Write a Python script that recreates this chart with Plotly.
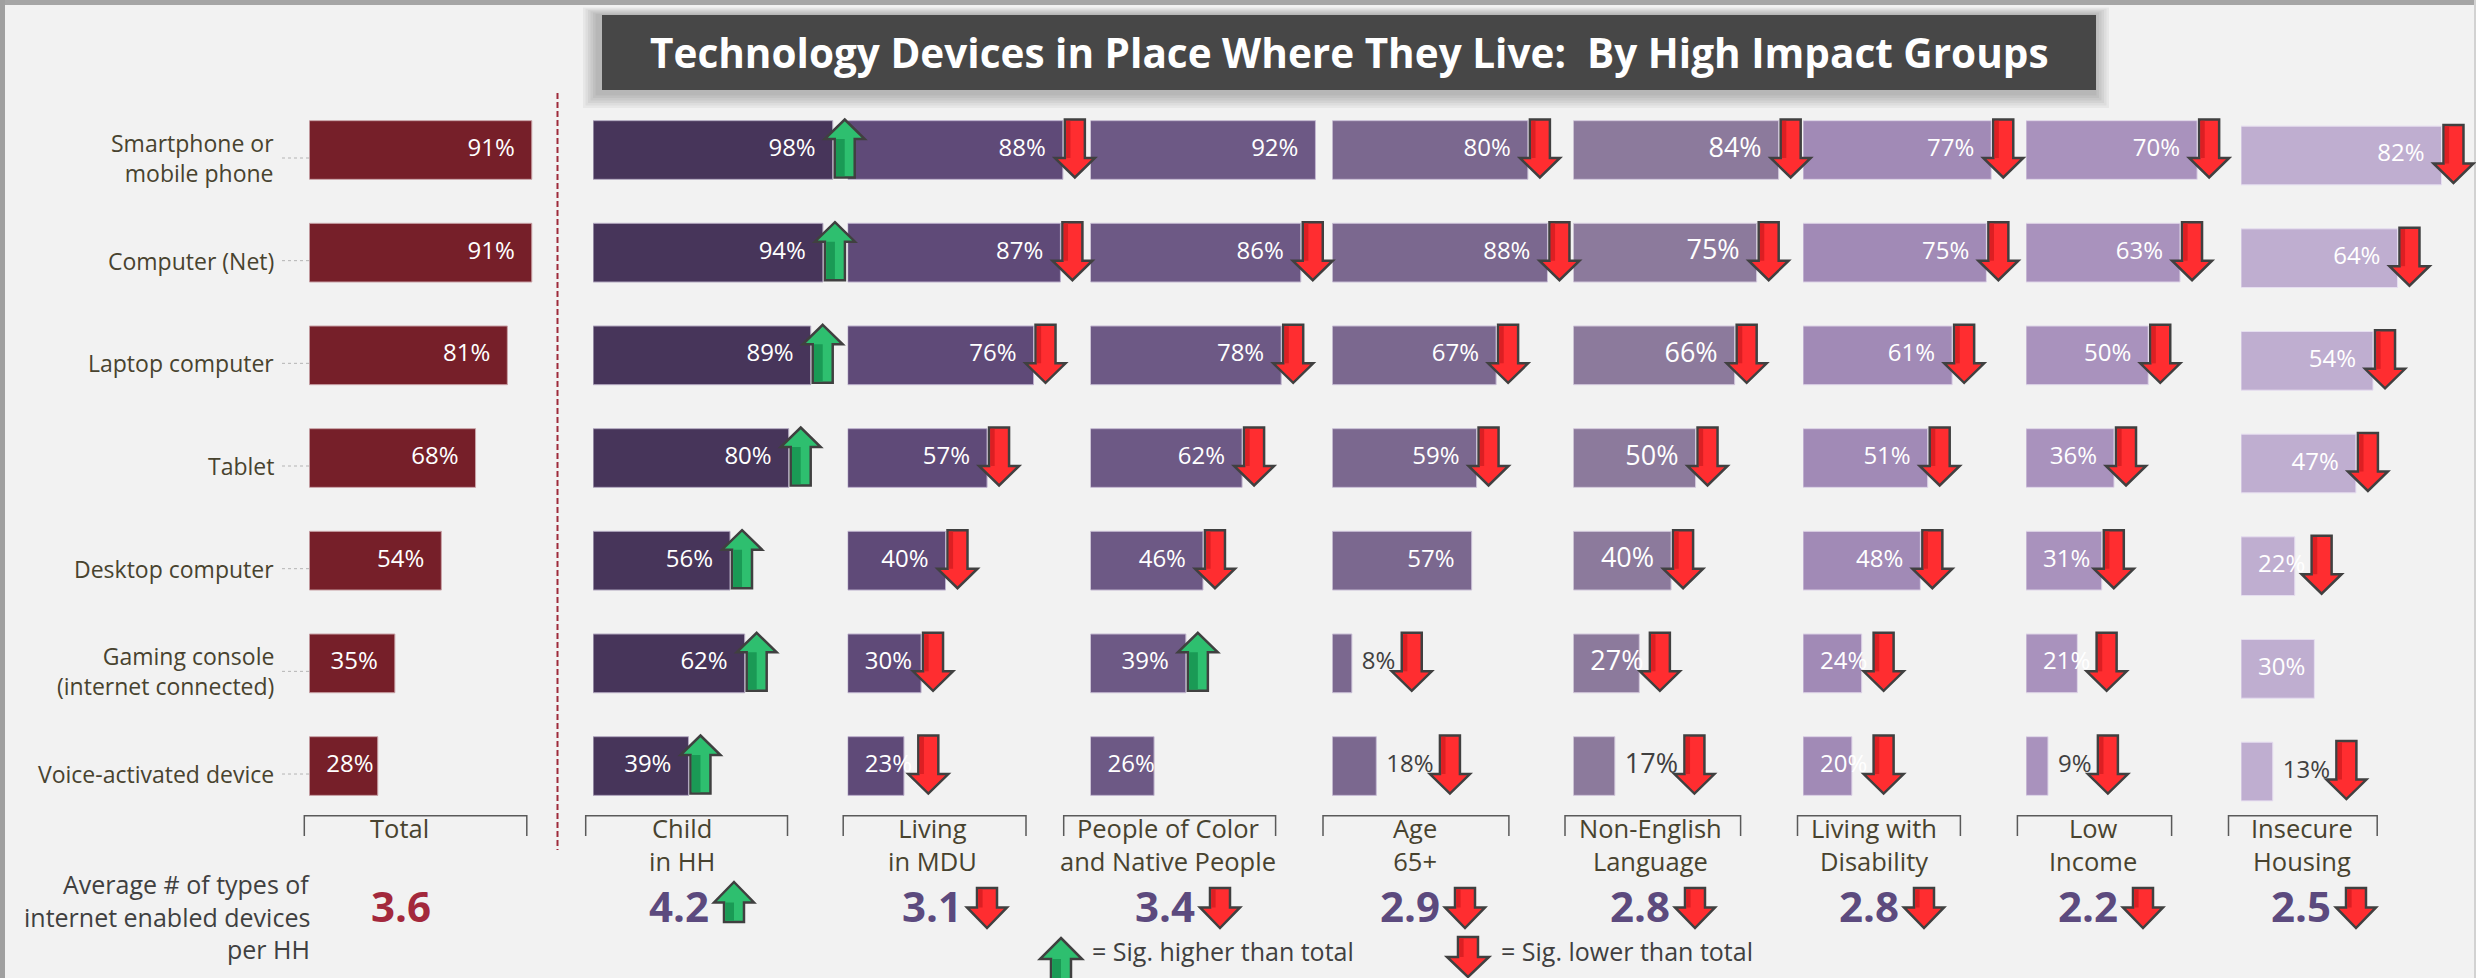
import plotly.graph_objects as go

W, H = 2476, 978
BG = "#f2f2f2"
FONT = "Open Sans"


def fx(p):
    """Horizontal pixel -> paper fraction."""
    return p / W


def fy(p):
    """Vertical pixel (measured from top) -> paper fraction."""
    return 1 - p / H


# ---------------------------------------------------------------- data
devices = [
    "Smartphone or<br>mobile phone",
    "Computer (Net)",
    "Laptop computer",
    "Tablet",
    "Desktop computer",
    "Gaming console<br>(internet connected)",
    "Voice-activated device",
]

groups = [
    "Total",
    "Child<br>in HH",
    "Living<br>in MDU",
    "People of Color<br>and Native People",
    "Age<br>65+",
    "Non-English<br>Language",
    "Living with<br>Disability",
    "Low<br>Income",
    "Insecure<br>Housing",
]

total = [91, 91, 81, 68, 54, 35, 28]
child_in_hh = [98, 94, 89, 80, 56, 62, 39]
living_in_mdu = [88, 87, 76, 57, 40, 30, 23]
people_of_color = [92, 86, 78, 62, 46, 39, 26]
age_65_plus = [80, 88, 67, 59, 57, 8, 18]
non_english = [84, 75, 66, 50, 40, 27, 17]
disability = [77, 75, 61, 51, 48, 24, 20]
low_income = [70, 63, 50, 36, 31, 21, 9]
insecure_housing = [82, 64, 54, 47, 22, 30, 13]

# significance versus total: 1 = higher, -1 = lower, 0 = not significant
sig_total = [0, 0, 0, 0, 0, 0, 0]
sig_child = [1, 1, 1, 1, 1, 1, 1]
sig_mdu = [-1, -1, -1, -1, -1, -1, -1]
sig_poc = [0, -1, -1, -1, -1, 1, 0]
sig_age = [-1, -1, -1, -1, 0, -1, -1]
sig_non_english = [-1, -1, -1, -1, -1, -1, -1]
sig_disability = [-1, -1, -1, -1, -1, -1, -1]
sig_low_income = [-1, -1, -1, -1, -1, -1, -1]
sig_insecure = [-1, -1, -1, -1, -1, 0, -1]

avg_devices = [3.6, 4.2, 3.1, 3.4, 2.9, 2.8, 2.8, 2.2, 2.5]
avg_sig = [0, 1, -1, -1, -1, -1, -1, -1, -1]

avg_label_lines = ["Average # of types of", "internet enabled devices", "per HH"]

columns = [total, child_in_hh, living_in_mdu, people_of_color, age_65_plus,
           non_english, disability, low_income, insecure_housing]
sigs = [sig_total, sig_child, sig_mdu, sig_poc, sig_age,
        sig_non_english, sig_disability, sig_low_income, sig_insecure]

# ---------------------------------------------------------------- styling / geometry
col_color = ["#761f29", "#47355a", "#5f4a78", "#6d5985", "#7b688f",
             "#8c7a9c", "#a18ab6", "#a992bd", "#bfaed0"]
col_edge = ["#c9a3a8", "#b3a9c0", "#bcb0cc", "#c3b8d0", "#c9bfd6",
            "#d3c9dc", "#dcd2e6", "#dfd6e8", "#e6def0"]
label_size = [24, 24, 24, 24, 24, 27, 24, 24, 24]

col_start = [309.3, 593.1, 847.7, 1090.5, 1332.3, 1573.3, 1803.0, 2026.0, 2241.0]
col_vshift = [0, 0, 0, 0, 0, 0, 0, 0, 5.5]
PX_PER_PCT = 2.445
ROW_PITCH = 102.67
ROW0 = 150.0           # pixel centre of the first row
BAR_H = 58.7
N_ROWS = len(devices)
rows = list(range(N_ROWS))

bracket_span = [(304.3, 526.8), (585.7, 787.5), (843.2, 1026.0), (1063.7, 1275.6),
                (1323.0, 1508.9), (1565.0, 1740.6), (1797.5, 1960.4), (2017.4, 2171.6),
                (2228.5, 2377.2)]
group_cx = [399.5, 682, 932.5, 1168, 1415, 1650, 1874, 2093, 2302]
avg_cx = [400.5, 679, 932, 1165, 1410, 1640, 1869, 2088, 2301]
avg_line_y = [884, 916.5, 949]

GREEN, GREEN_DARK = "#2ebf6f", "#1a9a55"
RED, RED_DARK = "#ff2d30", "#dc1f23"
OUTLINE = "#404040"
TEXT_DARK = "#48432f"
TEXT_GREY = "#404040"
PURPLE_VALUE = "#5c4a7e"
RED_VALUE = "#a3283c"

fig = go.Figure()
layout_axes = {}
shapes = []
annotations = []


def arrow_poly(up, h, head_h, head_w, shaft_w):
    hh, hw, sw = h / 2, head_w / 2, shaft_w / 2
    if up:
        b = -hh + head_h
        return [(0, -hh), (hw, b), (sw, b), (sw, hh), (-sw, hh), (-sw, b), (-hw, b)]
    b = hh - head_h
    return [(-sw, -hh), (sw, -hh), (sw, b), (hw, b), (0, hh), (-hw, b), (-sw, b)]


def shade_poly(up, h, head_h, shaft_w, frac, inset=1.3):
    hh, sw = h / 2, shaft_w / 2
    x0, x1 = -sw + inset, -sw + shaft_w * frac
    if up:
        return [(x0, -hh + head_h), (x1, -hh + head_h), (x1, hh - inset), (x0, hh - inset)]
    return [(x0, -hh + inset), (x1, -hh + inset), (x1, hh - head_h), (x0, hh - head_h)]


def to_path(pts):
    return "M " + " L ".join(f"{x:.5f},{y:.5f}" for x, y in pts) + " Z"


def add_arrow(up, pts_map, xref, yref, h, head_h, head_w, shaft_w):
    body = [pts_map(dx, dy) for dx, dy in arrow_poly(up, h, head_h, head_w, shaft_w)]
    shade = [pts_map(dx, dy) for dx, dy in
             shade_poly(up, h, head_h, shaft_w, 0.5 if up else 0.28)]
    shapes.append(dict(type="path", path=to_path(body), xref=xref, yref=yref,
                       fillcolor=GREEN if up else RED,
                       line=dict(color=OUTLINE, width=2.5), layer="above"))
    shapes.append(dict(type="path", path=to_path(shade), xref=xref, yref=yref,
                       fillcolor=GREEN_DARK if up else RED_DARK,
                       line=dict(width=0), layer="above"))


# ---------------------------------------------------------------- axes
for c in range(len(columns)):
    shift = col_vshift[c]
    yname = "y" if shift == 0 else "y2"
    start = col_start[c]
    end = min(start + 300, W)
    xkey = "xaxis" if c == 0 else f"xaxis{c + 1}"
    layout_axes[xkey] = dict(domain=[fx(start), fx(end)], range=[0, (end - start) / PX_PER_PCT],
                             anchor=yname, visible=False, fixedrange=True)

for key, shift, anchor in (("yaxis", 0, "x"), ("yaxis2", 5.5, "x9")):
    top = ROW0 - ROW_PITCH / 2 + shift
    bottom = ROW0 + (N_ROWS - 0.5) * ROW_PITCH + shift
    layout_axes[key] = dict(domain=[fy(bottom), fy(top)], range=[N_ROWS - 0.5, -0.5],
                            anchor=anchor, visible=False, fixedrange=True)

# ---------------------------------------------------------------- bars, labels, arrows
ARROW_GAP = 12          # px from bar end to arrow centre
PAD = 17                # px inside padding for value labels
OUT_PAD = 10            # px between bar end and an outside label
for c, vals in enumerate(columns):
    xa = "x" if c == 0 else f"x{c + 1}"
    ya = "y" if col_vshift[c] == 0 else "y2"
    fig.add_trace(go.Bar(
        x=vals, y=rows, orientation="h", width=BAR_H / ROW_PITCH,
        marker=dict(color=col_color[c], line=dict(color=col_edge[c], width=1)),
        xaxis=xa, yaxis=ya, hoverinfo="skip", showlegend=False))

    size = label_size[c]
    for i, v in enumerate(vals):
        text = f"{v}%"
        text_w = (len(text) - 1) * 0.572 * size + 0.84 * size
        bar_px = v * PX_PER_PCT
        if v < 20:
            x, pos, col = v + OUT_PAD / PX_PER_PCT, "middle right", TEXT_GREY
            text_right = bar_px + OUT_PAD + text_w
        elif bar_px - PAD - text_w < PAD:
            x, pos, col = PAD / PX_PER_PCT, "middle right", "white"
            text_right = PAD + text_w
        else:
            x, pos, col = v - PAD / PX_PER_PCT, "middle left", "white"
            text_right = bar_px - PAD
        fig.add_trace(go.Scatter(
            x=[x], y=[i], mode="text", text=[text], textposition=pos,
            textfont=dict(family=FONT, size=size, color=col),
            xaxis=xa, yaxis=ya, hoverinfo="skip", showlegend=False))

        s = sigs[c][i]
        if s != 0:
            cx = max(bar_px + ARROW_GAP, text_right + 16) / PX_PER_PCT
            cy = i - 1.5 / ROW_PITCH
            add_arrow(s > 0,
                      lambda dx, dy, cx=cx, cy=cy: (cx + dx / PX_PER_PCT, cy + dy / ROW_PITCH),
                      xa, ya, 58, 19.5, 40, 20)

# ---------------------------------------------------------------- device labels + dotted ticks
for i, name in enumerate(devices):
    yc = ROW0 + i * ROW_PITCH + 8
    annotations.append(dict(x=fx(275), y=i, xref="paper", yref="y", text=name,
                            xanchor="right", yanchor="middle", align="right", yshift=-8,
                            showarrow=False, borderpad=0,
                            font=dict(family=FONT, size=23, color=TEXT_DARK)))
    shapes.append(dict(type="line", xref="paper", yref="paper",
                       x0=fx(282), x1=fx(309), y0=fy(yc), y1=fy(yc),
                       line=dict(color="#b4b4b4", width=1, dash="dot")))

# ---------------------------------------------------------------- group brackets, names, averages
for g, name in enumerate(groups):
    x0, x1 = bracket_span[g]
    shapes.append(dict(type="path", xref="paper", yref="paper",
                       path=f"M {fx(x0)},{fy(836)} L {fx(x0)},{fy(815.7)} "
                            f"L {fx(x1)},{fy(815.7)} L {fx(x1)},{fy(836)}",
                       line=dict(color="#5a5a5a", width=1.5)))
    annotations.append(dict(x=fx(group_cx[g]), y=fy(810), xref="paper", yref="paper",
                            text=name, xanchor="center", yanchor="top", showarrow=False,
                            borderpad=0,
                            font=dict(family=FONT, size=25.5, color=TEXT_DARK)))
    annotations.append(dict(x=fx(avg_cx[g]), y=fy(905), xref="paper", yref="paper",
                            text=f"<b>{avg_devices[g]:.1f}</b>", xanchor="center",
                            yanchor="middle", showarrow=False, borderpad=0,
                            font=dict(family=FONT, size=42,
                                      color=RED_VALUE if g == 0 else PURPLE_VALUE)))
    if avg_sig[g] != 0:
        up = avg_sig[g] > 0
        acx = avg_cx[g] + 55
        acy = 902 if up else 908
        add_arrow(up, lambda dx, dy, acx=acx, acy=acy: (fx(acx + dx), fy(acy + dy)),
                  "paper", "paper", 40, 20.5, 40, 20)

for line, ly in zip(avg_label_lines, avg_line_y):
    annotations.append(dict(x=fx(311), y=fy(ly), xref="paper", yref="paper",
                            text=line, xanchor="right", yanchor="middle", showarrow=False,
                            borderpad=0,
                            font=dict(family=FONT, size=25, color=TEXT_GREY)))

# ---------------------------------------------------------------- significance key
add_arrow(True, lambda dx, dy: (fx(1061 + dx), fy(959 + dy)), "paper", "paper", 42, 21, 42, 20)
add_arrow(False, lambda dx, dy: (fx(1468 + dx), fy(957 + dy)), "paper", "paper", 40, 20, 42, 20)
annotations.append(dict(x=fx(1091), y=fy(951), xref="paper", yref="paper",
                        text="= Sig. higher than total", xanchor="left", yanchor="middle",
                        showarrow=False, borderpad=0,
                        font=dict(family=FONT, size=25, color=TEXT_GREY)))
annotations.append(dict(x=fx(1500), y=fy(951), xref="paper", yref="paper",
                        text="= Sig. lower than total", xanchor="left", yanchor="middle",
                        showarrow=False, borderpad=0,
                        font=dict(family=FONT, size=25, color=TEXT_GREY)))

# ---------------------------------------------------------------- divider, frame, title
shapes.append(dict(type="line", xref="paper", yref="paper", x0=fx(557.5), x1=fx(557.5),
                   y0=fy(93), y1=fy(850), line=dict(color="#9e2a3a", width=2, dash="6px,3px")))
shapes.append(dict(type="rect", xref="paper", yref="paper", x0=0, x1=1, y0=fy(5), y1=1,
                   fillcolor="#a6a6a6", line=dict(width=0), layer="below"))
shapes.append(dict(type="rect", xref="paper", yref="paper", x0=0, x1=fx(5), y0=0, y1=1,
                   fillcolor="#a0a0a0", line=dict(width=0), layer="below"))
shapes.append(dict(type="rect", xref="paper", yref="paper", x0=fx(2474), x1=1, y0=0, y1=1,
                   fillcolor="#d2d2d2", line=dict(width=0), layer="below"))

# soft drop shadow behind the title box
for k in range(6, 0, -1):
    e = 2.5 * k
    shapes.append(dict(type="rect", xref="paper", yref="paper",
                       x0=fx(602 - 4 - e), x1=fx(2096 - 2 + e), y0=fy(90 + 3 + e), y1=fy(15 - e * 0.5),
                       fillcolor="rgba(0,0,0,0.045)", line=dict(width=0), layer="below"))
shapes.append(dict(type="rect", xref="paper", yref="paper", x0=fx(602), x1=fx(2096),
                   y0=fy(90), y1=fy(15), fillcolor="#474747", line=dict(width=0), layer="below"))
annotations.append(dict(x=fx(1349), y=fy(52.5), xref="paper", yref="paper",
                        text="<b>Technology Devices in Place Where They Live:  By High Impact Groups</b>",
                        xanchor="center", yanchor="middle", showarrow=False,
                        font=dict(family=FONT, size=40.5, color="white")))

fig.update_layout(
    width=W, height=H,
    margin=dict(l=0, r=0, t=0, b=0),
    paper_bgcolor=BG, plot_bgcolor="rgba(0,0,0,0)",
    barmode="overlay", showlegend=False,
    shapes=shapes, annotations=annotations,
    font=dict(family=FONT),
    **layout_axes,
)

fig.write_html("out.html", config=dict(displayModeBar=False))
